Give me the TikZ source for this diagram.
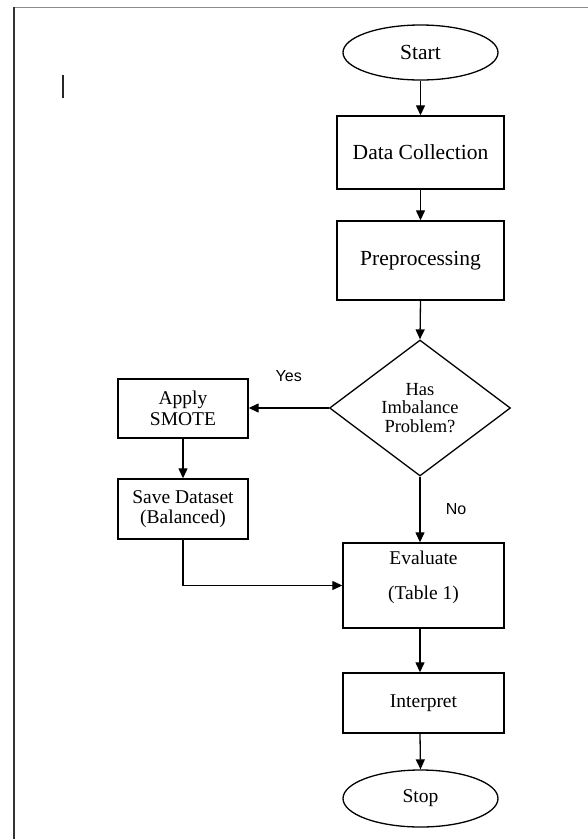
\documentclass[tikz,border=0pt]{standalone}
\usepackage{fontspec}
\setmainfont{Liberation Serif}
\newfontfamily\labelfont{Liberation Sans}
\usetikzlibrary{shapes.geometric,arrows.meta}
\begin{document}
\begin{tikzpicture}[x=1pt,y=-1pt,
  box/.style={draw,line width=1.4pt,rectangle,inner sep=0pt,align=center},
  term/.style={draw,line width=1.3pt,ellipse,inner sep=0pt},
  dec/.style={draw,line width=1.3pt,diamond,inner sep=0pt,align=center},
  arr/.style={line width=1.3pt,-{Triangle[length=10pt,width=9pt]}},
  lbl/.style={font=\labelfont\fontsize{16}{18}\selectfont},
  big/.style={font=\fontsize{21.5}{23}\selectfont},
  mid/.style={font=\fontsize{19.5}{20.5}\selectfont},
  small/.style={font=\fontsize{18.5}{18.5}\selectfont}
]
\useasboundingbox (0,0) rectangle (588,839);
% page frame
\coordinate (fl) at (14,839);
\coordinate (ft) at (14,7);
\coordinate (fr) at (588,7);
\draw[line width=1pt, black!45] (ft) -- (fr);
\draw[line width=1.6pt, black!80] (ft) -- (fl);
% cursor mark
\coordinate (c1) at (63,75);
\coordinate (c2) at (63,98);
\draw[line width=2pt, black!85] (c1) -- (c2);

\node[term, big, minimum width=155pt, minimum height=55pt] (start) at (420.5,52.5) {Start};
\node[box, big, minimum width=167pt, minimum height=73pt] (collect) at (420.5,152.5) {Data Collection};
\node[box, big, minimum width=167pt, minimum height=79pt] (prep) at (420.5,260.5) {Preprocessing};
\node[dec, small, minimum width=181pt, minimum height=136pt] (imb) at (420,408) {Has\\Imbalance\\Problem?};
\node[box, mid, minimum width=130pt, minimum height=59pt] (smote) at (183,408.5) {Apply\\SMOTE};
\node[box, mid, minimum width=130pt, minimum height=60pt] (save) at (183,509) {Save Dataset\\(Balanced)};
\node[box, minimum width=161pt, minimum height=85pt] (eval) at (423.5,585.5) {};
\node[mid, align=center, inner sep=0pt] (evaltxt) at (423.5,577.5) {Evaluate\\[14.5pt](Table 1)};
\node[box, mid, minimum width=161pt, minimum height=60pt] (interp) at (423.5,703) {Interpret};
\node[term, mid, minimum width=155pt, minimum height=57pt] (stop) at (420.5,798.5) {Stop};

\draw[arr] (start.south) -- (start.south |- collect.north);
\draw[arr] (collect.south) -- (collect.south |- prep.north);
\draw[arr] (prep.south) -- (imb.north);
\draw[arr] (imb.west) -- node[lbl, pos=0.5, yshift=32pt] (yes) {Yes} (imb.west -| smote.east);
\draw[arr] (smote.south) -- (save.north);
\draw[arr] (imb.south) -- node[lbl, pos=0.5, xshift=36pt] (no) {No} (imb.south |- eval.north);
\draw[arr] (save.south) |- (eval.west);
\draw[arr] (imb.south |- eval.south) -- (imb.south |- interp.north);
\draw[arr] (imb.south |- interp.south) -- (stop.north);
\end{tikzpicture}
\end{document}
